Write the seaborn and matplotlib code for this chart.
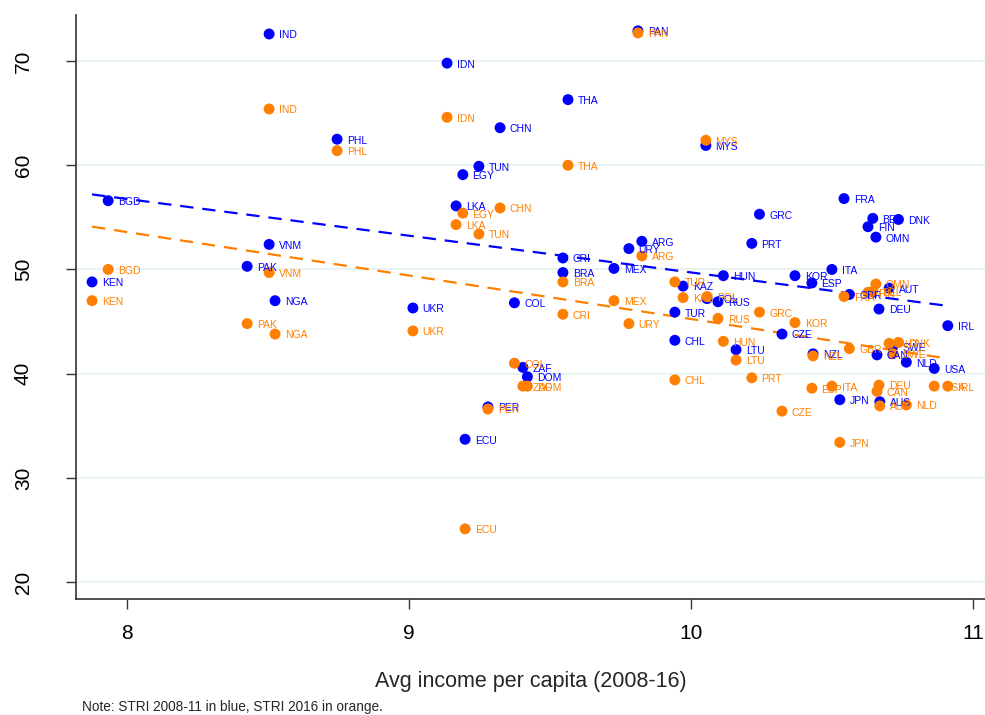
import numpy as np
import pandas as pd
import matplotlib
matplotlib.use("Agg")
import matplotlib.pyplot as plt
import seaborn as sns

# country codes, avg income (log, 2008-16), STRI 2008-11 and STRI 2016
countries = ["IND", "IDN", "THA", "PAN", "CHN", "PHL", "TUN", "EGY", "MYS", "BGD",
             "LKA", "FRA", "BEL", "DNK", "FIN", "OMN", "GRC", "PRT", "ARG", "URY",
             "CRI", "VNM", "PAK", "KEN", "BRA", "MEX", "HUN", "KOR", "ITA", "ESP",
             "AUT", "KAZ", "POL", "RUS", "NGA", "UKR", "COL", "TUR", "DEU", "IRL",
             "CZE", "CHL", "LTU", "NZL", "CAN", "SWE", "NLD", "USA", "GBR", "JPN",
             "AUS", "ZAF", "DOM", "PER", "ECU"]
income = [8.504, 9.135, 9.564, 9.812, 9.323, 8.745, 9.248, 9.191, 10.053, 7.933,
          9.167, 10.543, 10.645, 10.736, 10.628, 10.656, 10.243, 10.216, 9.826, 9.780,
          9.546, 8.504, 8.426, 7.876, 9.546, 9.727, 10.115, 10.369, 10.500, 10.429,
          10.703, 9.972, 10.057, 10.096, 8.525, 9.014, 9.374, 9.943, 10.667, 10.911,
          10.323, 9.943, 10.160, 10.433, 10.660, 10.716, 10.764, 10.863, 10.562, 10.528,
          10.670, 9.404, 9.420, 9.280, 9.199]
stri_2008 = [72.6, 69.8, 66.3, 72.9, 63.6, 62.5, 59.9, 59.1, 61.9, 56.6,
             56.1, 56.8, 54.9, 54.8, 54.1, 53.1, 55.3, 52.5, 52.7, 52.0,
             51.1, 52.4, 50.3, 48.8, 49.7, 50.1, 49.4, 49.4, 50.0, 48.7,
             48.2, 48.4, 47.2, 46.9, 47.0, 46.3, 46.8, 45.9, 46.2, 44.6,
             43.8, 43.2, 42.3, 41.9, 41.8, 42.6, 41.1, 40.5, 47.6, 37.5,
             37.3, 40.6, 39.7, 36.8, 33.7]
stri_2016 = [65.4, 64.6, 60.0, 72.7, 55.9, 61.4, 53.4, 55.4, 62.4, 50.0,
             54.3, 47.4, 47.9, 43.0, 47.8, 48.6, 45.9, 39.6, 51.3, 44.8,
             45.7, 49.7, 44.8, 47.0, 48.8, 47.0, 43.1, 44.9, 38.8, 38.6,
             42.9, 47.3, 47.4, 45.3, 43.8, 44.1, 41.0, 48.8, 38.9, 38.8,
             36.4, 39.4, 41.3, 41.7, 38.3, 41.9, 37.0, 38.8, 42.4, 33.4,
             36.9, 38.8, 38.8, 36.6, 25.1]

df = pd.DataFrame({"country": countries, "income": income,
                   "stri_2008": stri_2008, "stri_2016": stri_2016})

BLUE = "#0000ff"
ORANGE = "#ff8000"

sns.set_style("white")
plt.rcParams["font.family"] = ["Liberation Sans", "DejaVu Sans"]

fig = plt.figure(figsize=(9.85, 7.15), dpi=100)
ax = fig.add_axes([76 / 985, 116 / 715, 909 / 985, 584 / 715])

for col, color in [("stri_2008", BLUE), ("stri_2016", ORANGE)]:
    # fitted line first, then the dots and their country labels
    sns.regplot(data=df, x="income", y=col, scatter=False, ci=None, ax=ax,
                line_kws={"color": color, "lw": 1.6, "ls": (0, (6, 4))})
    sns.scatterplot(data=df, x="income", y=col, color=color, s=62,
                    edgecolor="none", ax=ax, zorder=3)
    for _, r in df.iterrows():
        ax.annotate(r["country"], (r["income"], r[col]), xytext=(7, -1),
                    textcoords="offset points", va="center", ha="left",
                    fontsize=7.5, color=color, zorder=4)

ax.set_xlim(7.819, 11.043)
ax.set_ylim(18.37, 74.42)
ax.set_xticks([8, 9, 10, 11])
ax.set_yticks([20, 30, 40, 50, 60, 70])
ax.yaxis.grid(True, color="#eaf2f3", lw=1.6)
ax.set_axisbelow(True)
ax.tick_params(axis="both", which="major", bottom=True, left=True,
               direction="out", length=7, width=1, color="#333333",
               labelsize=15, labelcolor="#000000")
ax.tick_params(axis="y", pad=24)
ax.tick_params(axis="x", pad=11)
for t in ax.get_yticklabels():
    t.set_rotation(90)
    t.set_va("center")
for side in ["top", "right"]:
    ax.spines[side].set_visible(False)
for side in ["left", "bottom"]:
    ax.spines[side].set_color("#333333")
    ax.spines[side].set_linewidth(1.2)

ax.set_xlabel("Avg income per capita (2008-16)", fontsize=15.5, labelpad=20)
ax.set_ylabel("")
fig.text(82 / 985, 1 - 707 / 715, "Note: STRI 2008-11 in blue, STRI 2016 in orange.",
         fontsize=9.8, va="center", ha="left")

fig.savefig("out.png", dpi=100)
